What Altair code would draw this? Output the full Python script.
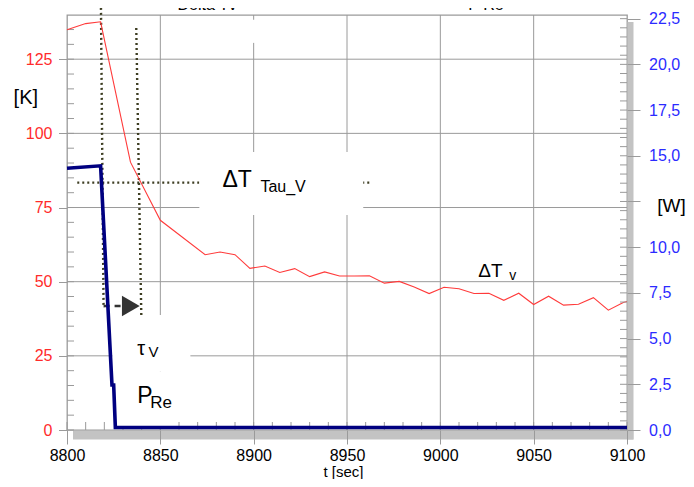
import altair as alt
import pandas as pd

FONT = "Liberation Sans"

# ---- data ----
# Delta T_v in K (left axis, red)
dT_t = [8800, 8810, 8818, 8834, 8850, 8874, 8882, 8890, 8898, 8906, 8914, 8922,
        8930, 8938, 8946, 8954, 8962, 8970, 8978, 8986, 8994, 9002, 9010, 9018,
        9026, 9034, 9042, 9050, 9058, 9066, 9074, 9082, 9090, 9098, 9100]
dT_k = [134.9, 137.0, 137.6, 90.3, 70.7, 59.1, 60.0, 59.1, 54.5, 55.3, 53.1, 54.4,
        51.7, 53.3, 51.9, 51.9, 52.0, 49.5, 50.1, 48.2, 46.0, 48.1, 47.6, 46.0,
        46.1, 43.7, 46.1, 42.3, 45.1, 42.1, 42.4, 44.6, 40.4, 43.0, 43.3]

# P_Re in W (right axis, navy)
P_t = [8800, 8818, 8824.1, 8825.0, 8825.9, 9100]
P_w = [14.32, 14.45, 2.46, 2.46, 0.14, 0.14]

# axes ticks
x_major = [8800, 8850, 8900, 8950, 9000, 9050, 9100]
x_grid = [8850, 8900, 8950, 9000, 9050]
x_minor = list(range(8800, 9101, 10))
k_major = [0, 25, 50, 75, 100, 125]
k_grid = [25, 50, 75, 100, 125]
k_minor = list(range(0, 136, 5))
w_major = [0, 2.5, 5, 7.5, 10, 12.5, 15, 17.5, 20, 22.5]
w_hidden_label = 12.5
w_minor = [i * 0.5 for i in range(0, 46)]

# annotation geometry (data units: t, K)
dot_t1 = [8818.2, 8837.1, 8805.5]
dot_t2 = [8819.6, 8839.8, 8962.0]
dot_k1 = [142.3, 135.5, 83.4]
dot_k2 = [41.1, 38.8, 83.4]

box_t1 = [8870.9, 8824.3, 8824.3, 8892.0]
box_t2 = [8958.7, 8866.1, 8858.0, 8908.0]
box_k1 = [93.7, 38.8, 19.6, 138.3]
box_k2 = [72.5, 19.6, 1.3, 130.5]

arrow_t = [8819.6, 8829.5]
arrow_k = 41.8
arrow_head_t = 8834.2

lab_text = ["ΔT", "Tau_V", "ΔT", "v", "τ", "V", "P", "Re", "Delta Tv", "P Re"]
lab_t = [8883.3, 8903.6, 9020.3, 9036.9, 8837.7, 8843.6, 8837.7, 8844.6, 8859.2, 9015.0]
lab_k = [82.0, 80.4, 51.6, 50.6, 25.3, 24.6, 9.1, 7.4, 141.5, 141.5]
lab_fs = [23, 16, 19, 14, 20, 15, 23, 17, 16, 16]

# ---- scales ----
xs = alt.Scale(domain=[8800, 9100], nice=False, zero=False)
ks = alt.Scale(domain=[0, 139.9], nice=False, zero=False)
ws = alt.Scale(domain=[0, 22.7], nice=False, zero=False)

GRID = "#9a9a9a"

x_axis = alt.Axis(values=x_major, format="d", grid=False, domain=False, ticks=True,
                  tickSize=14, tickColor=GRID, tickWidth=1,
                  labelFont=FONT, labelFontSize=16, labelColor="black", labelPadding=3,
                  labelFlush=False, labelOverlap=False,
                  title="t [sec]", titleFont=FONT, titleFontSize=15, titleFontWeight="normal",
                  titleColor="black", titleBaseline="middle", titleY=41.2, titleX=276,
                  zindex=1)
k_axis = alt.Axis(orient="left", values=k_major, format="d", grid=False, domain=False,
                  tickSize=8.5, tickColor=GRID, tickWidth=1,
                  labelFont=FONT, labelFontSize=16, labelColor="#ff2b2b", labelPadding=6.5,
                  title="[K]", titleAngle=0, titleX=-41.7, titleY=82, titleAlign="center",
                  titleBaseline="middle", titleFont=FONT, titleFontSize=20,
                  titleFontWeight="normal", titleColor="black", zindex=1)
w_axis = alt.Axis(orient="right", values=w_major, grid=False, domain=False,
                  labelExpr=("datum.value == %s ? '' : replace(format(datum.value, '.1f'), '.', ',')"
                             % w_hidden_label),
                  tickSize=13, tickColor=GRID, tickWidth=1,
                  labelFont=FONT, labelFontSize=16, labelColor="#2b2bff", labelPadding=8.6,
                  title="[W]", titleAngle=0, titleX=44, titleY=190, titleAlign="center",
                  titleBaseline="middle", titleFont=FONT, titleFontSize=19,
                  titleFontWeight="normal", titleColor="black", zindex=1)


def X(f="t", axis=None):
    return alt.X(f, type="quantitative", scale=xs, axis=axis)


def YK(f="k", axis=None):
    return alt.Y(f, type="quantitative", scale=ks, axis=axis)


def YW(f="w", axis=None):
    return alt.Y(f, type="quantitative", scale=ws, axis=axis)


one = pd.DataFrame({"a": [0]})

# shadow of the plot frame
shadow_bottom = alt.Chart(one).mark_rect(color="#c3c3c3").encode(
    x=alt.value(6), x2=alt.value(566.5), y=alt.value(416), y2=alt.value(424.5))
shadow_right = alt.Chart(one).mark_rect(color="#c3c3c3").encode(
    x=alt.value(560.5), x2=alt.value(566.5), y=alt.value(7), y2=alt.value(424.5))

vgrid = alt.Chart(pd.DataFrame({"t": x_grid})).mark_rule(color=GRID, strokeWidth=1).encode(
    x=X(axis=x_axis))
hgrid = alt.Chart(pd.DataFrame({"k": k_grid})).mark_rule(color=GRID, strokeWidth=1).encode(
    y=YK(axis=k_axis))

kmin = alt.Chart(pd.DataFrame({"k": k_minor})).mark_rule(color=GRID, strokeWidth=1).encode(
    y=YK(), x=alt.value(0), x2=alt.value(7))
xmin = alt.Chart(pd.DataFrame({"t": x_minor})).mark_rule(color=GRID, strokeWidth=1).encode(
    x=X(), y=alt.value(407), y2=alt.value(415))

dots = alt.Chart(pd.DataFrame({"t1": dot_t1, "t2": dot_t2, "k1": dot_k1, "k2": dot_k2})).mark_rule(
    color="#3d3d22", strokeWidth=2.4, strokeDash=[2, 3], strokeCap="butt").encode(
    x=X("t1"), x2=alt.X2("t2"), y=YK("k1"), y2=alt.Y2("k2"))

boxes = alt.Chart(pd.DataFrame({"t1": box_t1, "t2": box_t2, "k1": box_k1, "k2": box_k2})).mark_rect(
    color="white").encode(x=X("t1"), x2=alt.X2("t2"), y=YK("k1"), y2=alt.Y2("k2"))

red = alt.Chart(pd.DataFrame({"t": dT_t, "k": dT_k})).mark_line(
    color="#ff3b3b", strokeWidth=1.1).encode(x=X(), y=YK())

arrow = alt.Chart(pd.DataFrame({"t": [arrow_t[0]], "t2": [arrow_t[1]], "k": [arrow_k]})).mark_rule(
    color="#333333", strokeWidth=2.5, strokeDash=[6, 5]).encode(x=X(), x2=alt.X2("t2"), y=YK())
head = alt.Chart(pd.DataFrame({"t": [arrow_head_t], "k": [arrow_k]})).mark_point(
    shape="triangle-right", filled=True, color="#333333", size=420, opacity=1).encode(x=X(), y=YK())

texts = []
for s, tt, kk, fs in zip(lab_text, lab_t, lab_k, lab_fs):
    texts.append(alt.Chart(pd.DataFrame({"t": [tt], "k": [kk], "s": [s]})).mark_text(
        align="left", baseline="alphabetic", font=FONT, fontSize=fs, color="black").encode(
        x=X(), y=YK(), text="s:N"))

wmin = alt.Chart(pd.DataFrame({"w": w_minor})).mark_rule(color=GRID, strokeWidth=1).encode(
    y=YW(), x=alt.value(553), x2=alt.value(560))
blue = alt.Chart(pd.DataFrame({"t": P_t, "w": P_w})).mark_line(
    color="#000080", strokeWidth=3.6).encode(x=X(), y=YW(axis=w_axis))

chart = alt.layer(shadow_bottom, shadow_right, vgrid, hgrid, kmin, xmin, dots, boxes,
                  red, arrow, head, *texts, wmin, blue).resolve_scale(
    y="independent").resolve_axis(x="independent").properties(
    width=560, height=415,
    autosize=alt.AutoSizeParams(type="none"),
    padding={"left": 59, "top": 7, "right": 59, "bottom": 49},
).configure_view(stroke="#9a9a9a", strokeWidth=1.3)

chart.save("out.html", embed_options={"renderer": "svg", "actions": False})
